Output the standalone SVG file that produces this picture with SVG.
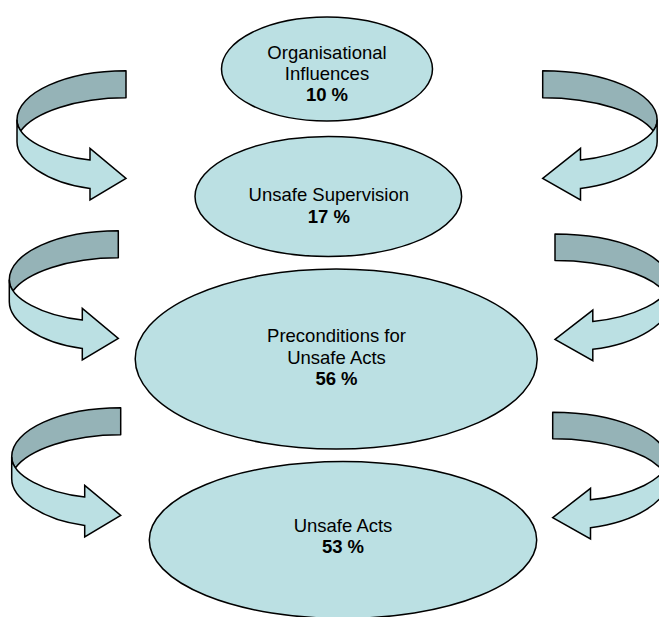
<svg xmlns="http://www.w3.org/2000/svg" width="659" height="617" viewBox="0 0 659 617">
<style>
.node{fill:#BBE0E3;stroke:#000;stroke-width:1.5}
.back{fill:#95B3B7;stroke:#000;stroke-width:1.5;stroke-linejoin:round;vector-effect:non-scaling-stroke}
.front{fill:#BBE0E3;stroke:#000;stroke-width:1.5;stroke-linejoin:miter;vector-effect:non-scaling-stroke}
text{font-family:"Liberation Sans",Arial,sans-serif;font-size:18.5px;fill:#000;text-anchor:middle}
.pct{font-weight:bold}
</style>
<defs>
<g id="curl">
<path class="back" d="M0,0 C-60,0 -109,22 -109,49 C-109,54 -107.5,57.5 -105.2,60.1 C-92,42 -50,27 0,27 Z"/>
<path class="front" d="M-109,49 L-109,71 C-109,90 -80,112 -36,117.7 L-36,129.3 L0,107.6 L-36,77.6 L-36,89.3 C-75,85 -109,68 -109,49 Z"/>
</g>
</defs>
<g id="connectors">
<use href="#curl" transform="translate(126,70.7)"/>
<use href="#curl" transform="translate(118.3,230.7)"/>
<use href="#curl" transform="translate(120.7,407.7)"/>
<use href="#curl" transform="translate(542.7,70.7) scale(-1.05,1)"/>
<use href="#curl" transform="translate(555,234) scale(-1.05,0.98)"/>
<use href="#curl" transform="translate(552.7,412.3) scale(-1.05,0.98)"/>
</g>
<g id="organisational">
<ellipse class="node" cx="327" cy="69" rx="105.5" ry="52"/>
<text x="327" y="59.3">Organisational</text>
<text x="327" y="80.3">Influences</text>
<text class="pct" x="327" y="100.5">10 %</text>
</g>
<g id="supervision">
<ellipse class="node" cx="328.3" cy="196.5" rx="133.3" ry="60"/>
<text x="328.8" y="200.7">Unsafe Supervision</text>
<text class="pct" x="328.8" y="222.7">17 %</text>
</g>
<g id="preconditions">
<ellipse class="node" cx="336.2" cy="359" rx="201" ry="90"/>
<text x="336.5" y="342">Preconditions for</text>
<text x="336.5" y="363.5">Unsafe Acts</text>
<text class="pct" x="336.5" y="385.3">56 %</text>
</g>
<g id="acts">
<ellipse class="node" cx="343" cy="540" rx="193.7" ry="78.5"/>
<text x="343" y="531.7">Unsafe Acts</text>
<text class="pct" x="343" y="553.3">53 %</text>
</g>
</svg>
